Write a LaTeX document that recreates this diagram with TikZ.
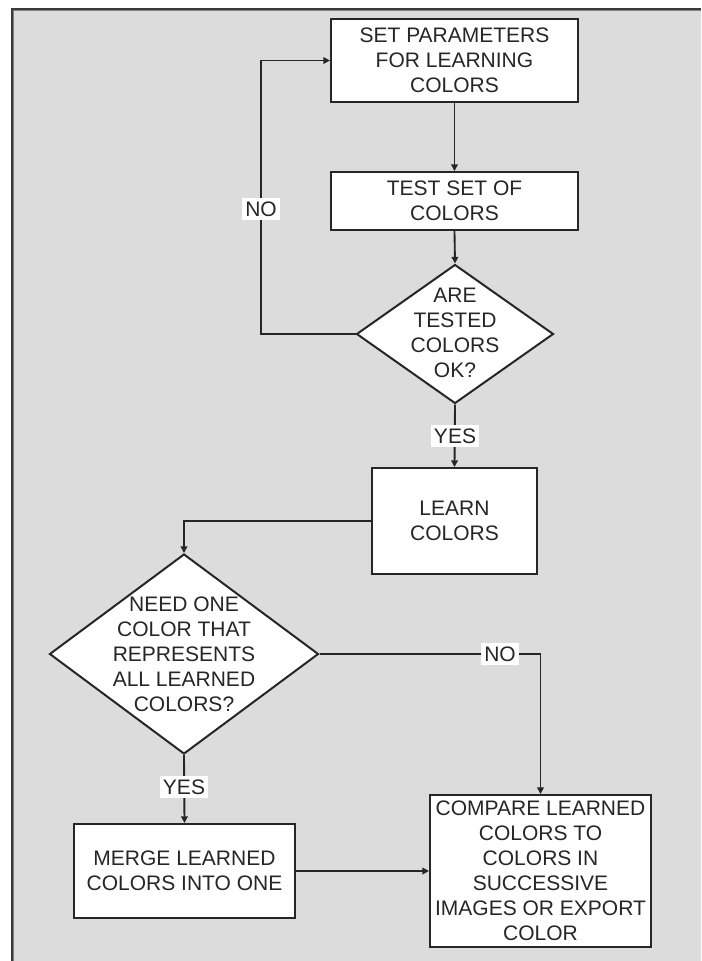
\documentclass[tikz,border=0pt]{standalone}
\usepackage{fontspec}
\setmainfont{Liberation Sans}
\usetikzlibrary{arrows.meta,shapes.geometric}
\definecolor{bggray}{HTML}{DCDCDC}
\definecolor{ink}{HTML}{262626}
\definecolor{frameline}{HTML}{3A3A3A}
\tikzset{
  every node/.style={font=\fontsize{15.75pt}{18.75pt}\selectfont, text=ink},
  box/.style={draw=ink, fill=white, line width=1.5pt, rectangle, inner sep=0pt, align=center},
  dia/.style={draw=ink, fill=white, line width=1.5pt, diamond, inner sep=0pt, shape aspect=1},
  dtext/.style={align=center, inner sep=0pt},
  arr/.style={draw=ink, line width=1.4pt, -{Triangle[length=5pt,width=5pt]}},
  lbl/.style={fill=white, inner xsep=2.5pt, inner ysep=3pt}
}
\begin{document}
\begin{tikzpicture}[x=0.75pt, y=-0.75pt]
\useasboundingbox (0,0) rectangle (701,961);
\fill[white] (0,0) rectangle (701,961);
\fill[bggray] (11,8) rectangle (701,961);
\draw[frameline, line width=1.8pt] (12,961) -- (12,9) -- (701,9);
\draw[gray, line width=0.8pt] (13.8,961) -- (13.8,10.8) -- (701,10.8);

% nodes
\node[box, minimum width=185.25pt, minimum height=62.25pt] (b1) at (454.5,60.5) {SET PARAMETERS\\FOR LEARNING\\COLORS};
\node[box, minimum width=185.25pt, minimum height=43.5pt] (b2) at (454.5,201) {TEST SET OF\\COLORS};
\node[dia, minimum width=147.75pt, minimum height=104.25pt] (d1) at (455,334) {};
\node[dtext] (d1t) at (455,333) {ARE\\TESTED\\COLORS\\OK?};
\node[box, minimum width=123.75pt, minimum height=79.5pt] (b3) at (454.5,521) {LEARN\\COLORS};
\node[dia, minimum width=201.75pt, minimum height=150pt] (d2) at (184,654) {};
\node[dtext] (d2t) at (184,654) {NEED ONE\\COLOR THAT\\REPRESENTS\\ALL LEARNED\\COLORS?};
\node[box, minimum width=165.75pt, minimum height=70.5pt] (b4) at (184.5,871) {MERGE LEARNED\\COLORS INTO ONE};
\node[box, minimum width=165.75pt, minimum height=114pt] (b5) at (540.5,871) {COMPARE LEARNED\\COLORS TO\\COLORS IN\\SUCCESSIVE\\IMAGES OR EXPORT\\COLOR};

\coordinate (loopx) at (261,200);

% connectors
\draw[arr] (b1.south) -- (b2.north);
\draw[arr] (b2.south) -- (d1.north);
\draw[arr] (d1.south) -- (b3.north);
\draw[arr] (d1.west) -| (loopx) |- (b1.west);
\draw[arr] (b3.west) -| (d2.north);
\draw[arr] (d2.east) -| (b5.north);
\draw[arr] (d2.south) -- (b4.north);
\draw[arr] (b4.east) -- (b5.west);

% labels
\node[lbl] (yes1) at (455,436) {YES};
\node[lbl] (no1) at (261,209) {NO};
\node[lbl] (no2) at (500,654) {NO};
\node[lbl] (yes2) at (184,787) {YES};
\end{tikzpicture}
\end{document}
